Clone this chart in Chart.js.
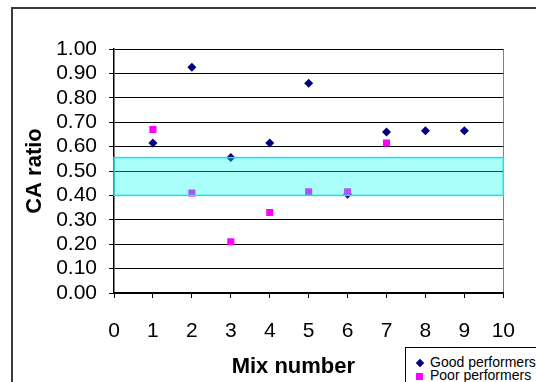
<!DOCTYPE html>
<html>
<head>
<meta charset="utf-8">
<script src="https://cdn.jsdelivr.net/npm/chart.js@4.4.1/dist/chart.umd.min.js"></script>
<style>
  html, body { margin: 0; padding: 0; background: #fff; overflow: hidden; }
  #wrap { position: relative; width: 536px; height: 382px; }
  #frame { position: absolute; left: 11px; top: 7px; width: 600px; height: 420px; border: 2px solid #3a3a3a; }
  #chart { position: absolute; left: 0; top: 0; }
  #legend { position: absolute; left: 405px; top: 347px; width: 200px; height: 60px; border: 1px solid #000;
            background: #fff; font: 14px "Liberation Sans", Arial, sans-serif; line-height: 13px; padding: 8px 0 0 9px; box-sizing: border-box; }
  #legend div { white-space: nowrap; }
  .dia { display: inline-block; width: 6px; height: 6px; background: #000080; transform: rotate(45deg); margin: 0 7px 1px 2px; }
  .sq { display: inline-block; width: 7px; height: 7px; background: #ff00ff; margin: 0 7px 0 1px; }
</style>
</head>
<body>
<div id="wrap">
  <div id="frame"></div>
  <canvas id="chart" width="536" height="382"></canvas>
  <div id="legend">
    <div><span class="dia"></span>Good performers</div>
    <div><span class="sq"></span>Poor performers</div>
  </div>
</div>
<script>
// Data
let goodMix = [1, 2, 3, 4, 5, 6, 7, 8, 9];
let goodRatio = [0.615, 0.925, 0.555, 0.615, 0.86, 0.405, 0.66, 0.665, 0.665];
let poorMix = [1, 2, 3, 4, 5, 6, 7];
let poorRatio = [0.67, 0.41, 0.21, 0.33, 0.415, 0.415, 0.615];

// Target band (shaded region)
let bandRange = [0.40, 0.555];

function toPoints(xs, ys) {
    return xs.map((x, i) => ({x: x, y: ys[i]}));
}

// Draw the cyan band over the points, like the original
const bandPlugin = {
    id: 'band',
    afterDatasetsDraw(chart) {
        let ctx = chart.ctx;
        let area = chart.chartArea;
        let yTop = chart.scales.y.getPixelForValue(bandRange[1]);
        let yBot = chart.scales.y.getPixelForValue(bandRange[0]);
        ctx.save();
        ctx.fillStyle = 'rgba(0,255,240,0.33)';
        ctx.fillRect(area.left, yTop, area.right - area.left, yBot - yTop);
        ctx.strokeStyle = 'rgb(30,225,225)';
        ctx.lineWidth = 1.5;
        ctx.strokeRect(area.left, yTop, area.right - area.left, yBot - yTop);
        ctx.restore();
    }
};

let font = "'Liberation Sans', Arial, sans-serif";

new Chart(document.getElementById('chart').getContext('2d'), {
    type: 'scatter',
    data: {
        datasets: [{
            label: 'Poor performers',
            data: toPoints(poorMix, poorRatio),
            pointStyle: 'rect',
            pointRadius: 5,
            pointHoverRadius: 5,
            backgroundColor: '#ff00ff',
            borderColor: '#ff00ff',
            borderWidth: 0
        }, {
            label: 'Good performers',
            data: toPoints(goodMix, goodRatio),
            pointStyle: 'rectRot',
            pointRadius: 4.5,
            pointHoverRadius: 4.5,
            backgroundColor: '#000080',
            borderColor: '#000080',
            borderWidth: 0
        }]
    },
    options: {
        responsive: false,
        animation: false,
        layout: {padding: {top: 49, right: 26, left: 0, bottom: 0}},
        plugins: {legend: {display: false}, tooltip: {enabled: false}},
        scales: {
            x: {
                type: 'linear',
                min: 0,
                max: 10,
                afterFit(scale) { scale.height = 89; },
                ticks: {stepSize: 1, autoSkip: false, maxRotation: 0, color: '#000', padding: 21,
                        font: {family: font, size: 21}},
                grid: {
                    color: (c) => c.tick && c.tick.value === 10 ? '#808080' : 'rgba(0,0,0,0)',
                    tickColor: '#000',
                    tickLength: 5,
                    lineWidth: 1
                },
                border: {color: '#000', width: 1.5},
                title: {
                    display: true,
                    text: 'Mix number     ',
                    color: '#000',
                    font: {family: font, size: 22, weight: 'bold'},
                    padding: {top: 0, bottom: 2}
                }
            },
            y: {
                min: 0,
                max: 1,
                afterFit(scale) { scale.width = 114; },
                ticks: {stepSize: 0.1, autoSkip: false, color: '#000', padding: 12,
                        font: {family: font, size: 21},
                        callback: (v) => v.toFixed(2)},
                grid: {color: '#000', tickColor: '#000', tickLength: 5, lineWidth: 1},
                border: {color: '#000', width: 1.5},
                title: {
                    display: true,
                    text: 'CA ratio',
                    color: '#000',
                    font: {family: font, size: 22, weight: 'bold'},
                    padding: {top: 22, bottom: 0}
                }
            }
        }
    },
    plugins: [bandPlugin]
});
</script>
</body>
</html>
